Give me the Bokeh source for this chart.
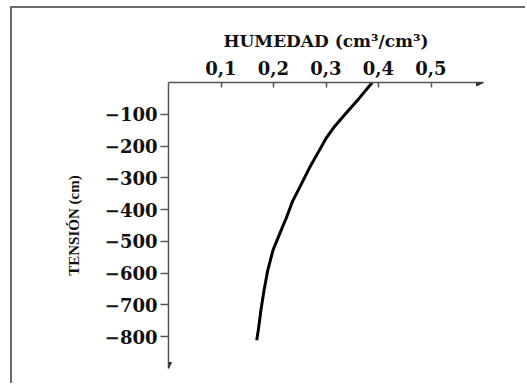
from bokeh.plotting import figure
from bokeh.models import FixedTicker, Range1d, Arrow, NormalHead
from bokeh.embed import file_html
from bokeh.resources import INLINE

# Data
humedad = [0.388, 0.363, 0.338, 0.316, 0.300, 0.284, 0.268, 0.252, 0.236,
           0.224, 0.217, 0.199, 0.189, 0.182, 0.176, 0.171, 0.168]
tension = [0, -50, -97, -139, -176, -223, -270, -323, -375,
           -428, -455, -528, -591, -654, -717, -780, -811]

x_ticks = [0.1, 0.2, 0.3, 0.4, 0.5]
x_tick_labels = ["0,1", "0,2", "0,3", "0,4", "0,5"]
y_ticks = [-100, -200, -300, -400, -500, -600, -700, -800]
y_tick_labels = ["\u2212100", "\u2212200", "\u2212300", "\u2212400",
                 "\u2212500", "\u2212600", "\u2212700", "\u2212800"]
x_limits = [0, 0.6]
y_limits = [-900, 0]

AX = "#555555"
TXT = "#111111"

p = figure(width=515, height=377,
           x_range=Range1d(x_limits[0], x_limits[1]),
           y_range=Range1d(y_limits[0], y_limits[1]),
           x_axis_location="above", y_axis_location="left",
           output_backend="svg", toolbar_location=None,
           min_border_left=156, min_border_top=74,
           min_border_right=44, min_border_bottom=17)
# picture frame (left and top edges of the original image)
p.styles = {"border-left": "2px solid #6a6a6a", "border-top": "2px solid #6a6a6a",
            "margin-left": "10px", "margin-top": "6px"}
p.grid.visible = False
p.outline_line_color = None
p.background_fill_color = "white"
p.border_fill_color = "white"

xa = p.xaxis[0]
xa.ticker = FixedTicker(ticks=x_ticks)
xa.major_label_overrides = dict(zip(x_ticks, x_tick_labels))
xa.major_tick_in = 5
xa.major_tick_out = 0
xa.minor_tick_line_color = None
xa.axis_line_color = AX
xa.axis_line_width = 1.5
xa.major_tick_line_color = AX
xa.major_tick_line_width = 1.5
xa.major_label_text_font = "DejaVu Serif"
xa.major_label_text_font_style = "bold"
xa.major_label_text_font_size = "18px"
xa.major_label_text_color = TXT
xa.major_label_standoff = 8
xa.axis_label = "HUMEDAD (cm\u00b3/cm\u00b3)"
xa.axis_label_text_font = "DejaVu Serif"
xa.axis_label_text_font_style = "bold"
xa.axis_label_text_font_size = "17px"
xa.axis_label_text_color = TXT
xa.axis_label_standoff = 7

ya = p.yaxis[0]
ya.ticker = FixedTicker(ticks=y_ticks)
ya.major_label_overrides = dict(zip(y_ticks, y_tick_labels))
ya.major_tick_in = 0
ya.major_tick_out = 8
ya.minor_tick_line_color = None
ya.axis_line_color = AX
ya.axis_line_width = 1.5
ya.major_tick_line_color = AX
ya.major_tick_line_width = 1.5
ya.major_label_text_font = "DejaVu Serif"
ya.major_label_text_font_style = "bold"
ya.major_label_text_font_size = "18px"
ya.major_label_text_color = TXT
ya.major_label_standoff = 3
ya.axis_label = "TENSI\u00d3N (cm)"
ya.axis_label_text_font = "Liberation Serif"
ya.axis_label_text_font_style = "bold"
ya.axis_label_text_font_size = "15px"
ya.axis_label_text_color = TXT
ya.axis_label_standoff = 20

# arrow heads at the end of the axes
p.add_layout(Arrow(end=NormalHead(size=7, fill_color="#333333", line_color="#333333"),
                   x_start=x_limits[1] - 0.01, y_start=y_limits[1],
                   x_end=x_limits[1], y_end=y_limits[1], line_alpha=0))
p.add_layout(Arrow(end=NormalHead(size=6, fill_color="#333333", line_color="#333333"),
                   x_start=x_limits[0], y_start=y_limits[0] + 15,
                   x_end=x_limits[0], y_end=y_limits[0], line_alpha=0))

p.line(humedad, tension, line_width=3, line_color="black", line_join="round")

open("out.html", "w").write(file_html(p, INLINE))
